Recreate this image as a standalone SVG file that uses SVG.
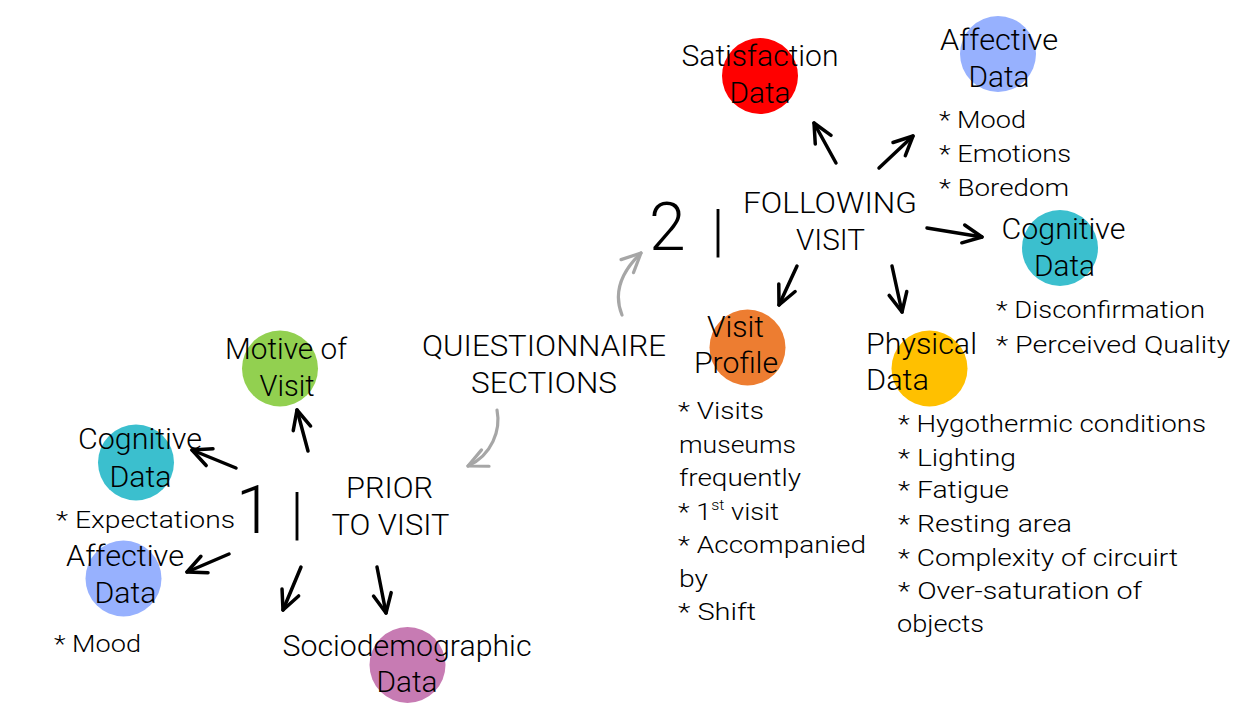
<svg xmlns="http://www.w3.org/2000/svg" width="1239" height="716" viewBox="0 0 1239 716">
<defs>
<style>
text{font-family:Roboto,"Liberation Sans",sans-serif;font-weight:300;fill:#000}
.lb{font-size:29px}
.c{text-anchor:middle}
.li{font-size:24px}
.big{font-size:66px}
.bar{font-size:58px;text-anchor:middle}
.ar{fill:none;stroke:#000;stroke-width:3.5;stroke-linecap:round;marker-end:url(#ah)}
.gr{fill:none;stroke:#A6A6A6;stroke-width:3.2;stroke-linecap:round;marker-end:url(#ag)}
</style>
<marker id="ah" markerUnits="userSpaceOnUse" viewBox="-24 -14 28 28" refX="0" refY="0" markerWidth="28" markerHeight="28" orient="auto">
<path d="M -19 -9 L 0 0 L -19 9" fill="none" stroke="#000" stroke-width="3.5" stroke-linecap="round" stroke-linejoin="round"/>
</marker>
<marker id="ag" markerUnits="userSpaceOnUse" viewBox="-24 -14 28 28" refX="0" refY="0" markerWidth="28" markerHeight="28" orient="auto">
<path d="M -19 -9 L 0 0 L -19 9" fill="none" stroke="#A6A6A6" stroke-width="3.2" stroke-linecap="round" stroke-linejoin="round"/>
</marker>
</defs>
<rect width="1239" height="716" fill="#fff"/>

<g id="connectors">
<path class="ar" d="M308 451 L297 410"/>
<path class="ar" d="M236 468 L192 450"/>
<path class="ar" d="M229 554 L187 572"/>
<path class="ar" d="M301 567 L283 610"/>
<path class="ar" d="M377 567 L386 613"/>
<path class="ar" d="M836 163 L814 123"/>
<path class="ar" d="M879 168 L913 136"/>
<path class="ar" d="M927 228 L982 237"/>
<path class="ar" d="M797 266 L779 305"/>
<path class="ar" d="M892 266 L902 312"/>
<path class="gr" d="M497 410 C501 430 492 455 468 466"/>
<path class="gr" d="M622 315 C614 295 618 275 641 253"/>
</g>

<g id="satisfaction">
<circle cx="760" cy="76" r="38" fill="#FF0000"/>
<text class="lb c" x="760" y="66" textLength="157" lengthAdjust="spacingAndGlyphs">Satisfaction</text>
<text class="lb c" x="760" y="103" textLength="61" lengthAdjust="spacingAndGlyphs">Data</text>
</g>

<g id="affective-following">
<circle cx="998" cy="54" r="38" fill="#97B1FE"/>
<text class="lb c" x="999" y="50" textLength="118" lengthAdjust="spacingAndGlyphs">Affective</text>
<text class="lb c" x="999" y="87" textLength="61" lengthAdjust="spacingAndGlyphs">Data</text>
<text class="li" x="939" y="128" textLength="87" lengthAdjust="spacingAndGlyphs">* Mood</text>
<text class="li" x="939" y="162" textLength="132" lengthAdjust="spacingAndGlyphs">* Emotions</text>
<text class="li" x="939" y="196" textLength="130" lengthAdjust="spacingAndGlyphs">* Boredom</text>
</g>

<g id="following-visit">
<text class="big" x="649" y="250">2</text>
<text class="bar" x="718" y="250">|</text>
<text class="lb c" x="830" y="213" textLength="174" lengthAdjust="spacingAndGlyphs">FOLLOWING</text>
<text class="lb c" x="830.5" y="250" textLength="69" lengthAdjust="spacingAndGlyphs">VISIT</text>
</g>

<g id="cognitive-following">
<circle cx="1060" cy="248" r="38" fill="#3BBFCE"/>
<text class="lb c" x="1063.5" y="239" textLength="124" lengthAdjust="spacingAndGlyphs">Cognitive</text>
<text class="lb c" x="1064.5" y="276" textLength="61" lengthAdjust="spacingAndGlyphs">Data</text>
<text class="li" x="996" y="318" textLength="209" lengthAdjust="spacingAndGlyphs">* Disconfirmation</text>
<text class="li" x="996" y="353" textLength="234" lengthAdjust="spacingAndGlyphs">* Perceived Quality</text>
</g>

<g id="visit-profile">
<circle cx="747.5" cy="347.5" r="38" fill="#ED7D31"/>
<text class="lb c" x="735.5" y="337" textLength="57" lengthAdjust="spacingAndGlyphs">Visit</text>
<text class="lb c" x="736" y="373" textLength="84" lengthAdjust="spacingAndGlyphs">Profile</text>
<text class="li" x="678" y="419" textLength="86" lengthAdjust="spacingAndGlyphs">* Visits</text>
<text class="li" x="679" y="453" textLength="117" lengthAdjust="spacingAndGlyphs">museums</text>
<text class="li" x="679" y="486" textLength="122" lengthAdjust="spacingAndGlyphs">frequently</text>
<text class="li" x="678" y="520" textLength="101" lengthAdjust="spacingAndGlyphs">* 1<tspan font-size="14" dy="-10">st</tspan><tspan dy="10"> visit</tspan></text>
<text class="li" x="678" y="553" textLength="188" lengthAdjust="spacingAndGlyphs">* Accompanied</text>
<text class="li" x="679" y="587" textLength="29" lengthAdjust="spacingAndGlyphs">by</text>
<text class="li" x="678" y="620" textLength="78" lengthAdjust="spacingAndGlyphs">* Shift</text>
</g>

<g id="physical">
<circle cx="929.5" cy="368.5" r="38" fill="#FFC000"/>
<text class="lb" x="866" y="354" textLength="111" lengthAdjust="spacingAndGlyphs">Physical</text>
<text class="lb" x="866" y="390" textLength="63" lengthAdjust="spacingAndGlyphs">Data</text>
<text class="li" x="898" y="432" textLength="308" lengthAdjust="spacingAndGlyphs">* Hygothermic conditions</text>
<text class="li" x="898" y="466" textLength="118" lengthAdjust="spacingAndGlyphs">* Lighting</text>
<text class="li" x="898" y="498" textLength="111" lengthAdjust="spacingAndGlyphs">* Fatigue</text>
<text class="li" x="898" y="532" textLength="174" lengthAdjust="spacingAndGlyphs">* Resting area</text>
<text class="li" x="898" y="566" textLength="280" lengthAdjust="spacingAndGlyphs">* Complexity of circuirt</text>
<text class="li" x="898" y="599" textLength="244" lengthAdjust="spacingAndGlyphs">* Over-saturation of</text>
<text class="li" x="897" y="632" textLength="87" lengthAdjust="spacingAndGlyphs">objects</text>
</g>

<g id="questionnaire">
<text class="lb c" x="544" y="356" textLength="244" lengthAdjust="spacingAndGlyphs">QUIESTIONNAIRE</text>
<text class="lb c" x="544" y="393" textLength="146" lengthAdjust="spacingAndGlyphs">SECTIONS</text>
</g>

<g id="motive">
<circle cx="280" cy="368.5" r="38" fill="#92D050"/>
<text class="lb c" x="286" y="359" textLength="122" lengthAdjust="spacingAndGlyphs">Motive of</text>
<text class="lb c" x="287" y="396" textLength="55" lengthAdjust="spacingAndGlyphs">Visit</text>
</g>

<g id="prior-visit">
<text class="big" x="236" y="533">1</text>
<text class="bar" x="297" y="533">|</text>
<text class="lb c" x="389.5" y="498" textLength="87" lengthAdjust="spacingAndGlyphs">PRIOR</text>
<text class="lb c" x="390.5" y="535" textLength="118" lengthAdjust="spacingAndGlyphs">TO VISIT</text>
</g>

<g id="cognitive-prior">
<circle cx="136" cy="462.5" r="38" fill="#3BBFCE"/>
<text class="lb c" x="140" y="449" textLength="124" lengthAdjust="spacingAndGlyphs">Cognitive</text>
<text class="lb c" x="140.5" y="487" textLength="62" lengthAdjust="spacingAndGlyphs">Data</text>
<text class="li" x="56" y="528" textLength="179" lengthAdjust="spacingAndGlyphs">* Expectations</text>
</g>

<g id="affective-prior">
<circle cx="123.5" cy="578.5" r="38" fill="#97B1FE"/>
<text class="lb c" x="125" y="566" textLength="118" lengthAdjust="spacingAndGlyphs">Affective</text>
<text class="lb c" x="125.5" y="603" textLength="62" lengthAdjust="spacingAndGlyphs">Data</text>
<text class="li" x="54" y="652" textLength="87" lengthAdjust="spacingAndGlyphs">* Mood</text>
</g>

<g id="sociodemographic">
<circle cx="407.5" cy="665" r="38" fill="#C77BB3"/>
<text class="lb c" x="407" y="656" textLength="249" lengthAdjust="spacingAndGlyphs">Sociodemographic</text>
<text class="lb c" x="407" y="692" textLength="61" lengthAdjust="spacingAndGlyphs">Data</text>
</g>
</svg>
